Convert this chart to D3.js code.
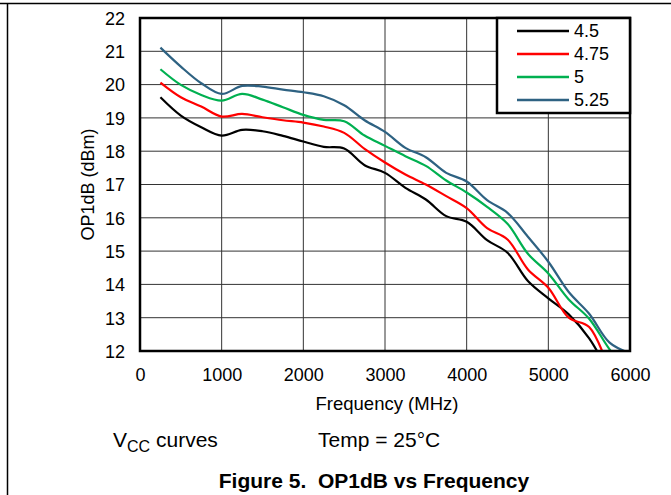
<!DOCTYPE html>
<html><head><meta charset="utf-8">
<script src="https://cdn.jsdelivr.net/npm/d3@7"></script>
<style>
html,body{margin:0;padding:0;background:#fff;}
text{font-family:"Liberation Sans",Arial,sans-serif;fill:#000;}
</style></head>
<body>
<svg id="chart" width="671" height="495"></svg>
<script>
const freqs = [250,500,750,1000,1250,1500,1750,2000,2250,2500,2750,3000,3250,3500,3750,4000,4250,4500,4750,5000,5250,5500,5750,6000];
const v450  = [19.62,19.07,18.72,18.47,18.64,18.60,18.46,18.29,18.13,18.08,17.58,17.35,16.90,16.55,16.05,15.88,15.33,14.95,14.10,13.58,13.10,12.38,11.30,null];
const v475  = [20.06,19.62,19.34,19.04,19.12,19.02,18.93,18.86,18.74,18.55,18.07,17.66,17.30,17.00,16.65,16.29,15.69,15.35,14.45,13.90,13.00,12.72,11.40,null];
const v500  = [20.46,19.99,19.69,19.52,19.72,19.55,19.32,19.09,18.94,18.90,18.47,18.16,17.85,17.56,17.12,16.76,16.33,15.82,14.92,14.33,13.55,12.97,12.05,11.30];
const v525  = [21.11,20.54,20.04,19.72,19.96,19.94,19.85,19.77,19.65,19.38,18.93,18.58,18.10,17.82,17.35,17.09,16.53,16.15,15.43,14.68,13.77,13.12,12.25,11.93];
const seriesNames = ["4.5","4.75","5","5.25"];
const seriesColors = ["#000000","#ff0000","#00b050","#2e6282"];
const xTicks = [0,1000,2000,3000,4000,5000,6000];
const yTicks = [12,13,14,15,16,17,18,19,20,21,22];

const series = [v450,v475,v500,v525].map((vals,i)=>({
  name: seriesNames[i], color: seriesColors[i],
  pts: freqs.map((f,j)=>({f, v: vals[j]})).filter(d=>d.v!=null)
}));

const svg = d3.select("#chart");
const L=140, R=630, T=18, B=351;
const x = d3.scaleLinear().domain([0,6000]).range([L,R]);
const y = d3.scaleLinear().domain([12,22]).range([B,T]);

// outer frame lines
svg.append("line").attr("x1",0).attr("x2",671).attr("y1",3.5).attr("y2",3.5).attr("stroke","#000").attr("stroke-width",1.5);
svg.append("line").attr("x1",7.5).attr("x2",7.5).attr("y1",3).attr("y2",495).attr("stroke","#000").attr("stroke-width",1.5);

// gridlines
svg.append("g").selectAll("line").data(xTicks.slice(1,-1)).join("line")
  .attr("x1",d=>x(d)).attr("x2",d=>x(d)).attr("y1",T).attr("y2",B)
  .attr("stroke","#333").attr("stroke-width",1);
svg.append("g").selectAll("line").data(yTicks.slice(1,-1)).join("line")
  .attr("x1",L).attr("x2",R).attr("y1",d=>y(d)).attr("y2",d=>y(d))
  .attr("stroke","#333").attr("stroke-width",1);

// clip
svg.append("clipPath").attr("id","clip").append("rect").attr("x",L).attr("y",T).attr("width",R-L).attr("height",B-T+1);

const line = d3.line().x(d=>x(d.f)).y(d=>y(d.v)).curve(d3.curveCatmullRom.alpha(0.5));
svg.append("g").attr("clip-path","url(#clip)").selectAll("path").data(series).join("path")
  .attr("d",d=>line(d.pts)).attr("fill","none").attr("stroke",d=>d.color).attr("stroke-width",2.2);

// plot border
svg.append("rect").attr("x",L).attr("y",T).attr("width",R-L).attr("height",B-T)
  .attr("fill","none").attr("stroke","#000").attr("stroke-width",2.5);

// axes labels
const xAxis = d3.axisBottom(x).tickValues(xTicks).tickFormat(d3.format("d")).tickSize(0).tickPadding(0);
const gx = svg.append("g").attr("transform",`translate(0,${B})`).call(xAxis);
gx.select(".domain").remove();
gx.selectAll("text").attr("y",30).attr("dy",null).style("font-size","18px").style("font-family","Liberation Sans, Arial, sans-serif").attr("fill","#000");

const yAxis = d3.axisLeft(y).tickValues(yTicks).tickSize(0).tickPadding(0);
const gy = svg.append("g").attr("transform",`translate(${L-15},0)`).call(yAxis);
gy.select(".domain").remove();
gy.selectAll("text").attr("x",0).attr("dy","0.35em").style("font-size","18px").style("font-family","Liberation Sans, Arial, sans-serif").attr("fill","#000");

svg.append("text").attr("x",387).attr("y",410).attr("text-anchor","middle").style("font-size","18.5px").text("Frequency (MHz)");
svg.append("text").attr("transform",`translate(94,${(T+B)/2}) rotate(-90)`).attr("text-anchor","middle").style("font-size","18px").text("OP1dB (dBm)");

// legend
const lg = svg.append("g");
lg.append("rect").attr("x",497).attr("y",T).attr("width",R-497).attr("height",95).attr("fill","#fff").attr("stroke","#000").attr("stroke-width",2.5);
const rows = lg.selectAll("g.row").data(series).join("g").attr("class","row")
  .attr("transform",(d,i)=>`translate(0,${31+i*23})`);
rows.append("line").attr("x1",517).attr("x2",569).attr("y1",0).attr("y2",0).attr("stroke",d=>d.color).attr("stroke-width",2.5);
rows.append("text").attr("x",574).attr("y",0).attr("dy","0.36em").style("font-size","18px").text(d=>d.name);

// notes
const vcc = svg.append("text").attr("x",113).attr("y",447).style("font-size","21px");
vcc.append("tspan").text("V");
vcc.append("tspan").attr("dy",5).style("font-size","16px").text("CC");
vcc.append("tspan").attr("dy",-5).text(" curves");
svg.append("text").attr("x",318).attr("y",447).style("font-size","21px").text("Temp = 25°C");
svg.append("text").attr("x",374).attr("y",488).attr("text-anchor","middle").style("font-size","21px").style("font-weight","bold").style("white-space","pre").text("Figure 5.  OP1dB vs Frequency");
</script>
</body></html>
